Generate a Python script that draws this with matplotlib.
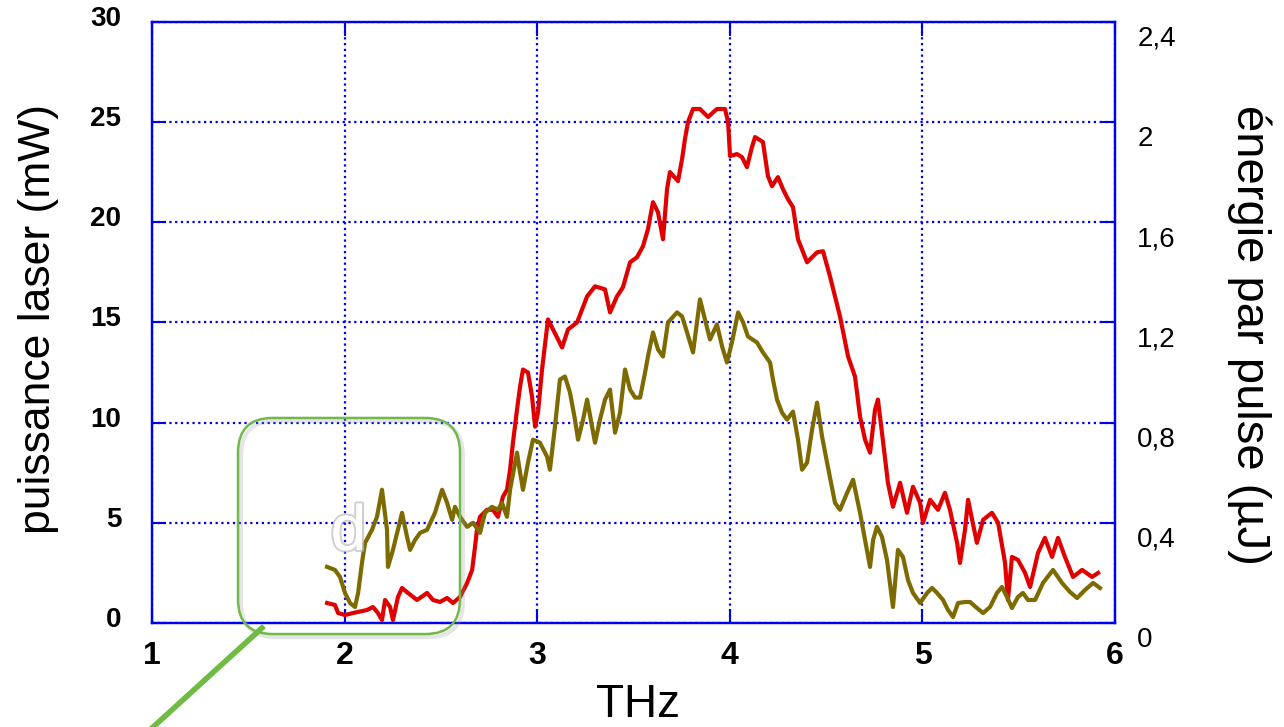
import matplotlib
matplotlib.use("Agg")
import matplotlib.pyplot as plt
import matplotlib.transforms as mtransforms
import matplotlib.patheffects as pe
from matplotlib.patches import FancyBboxPatch
from matplotlib.lines import Line2D

plt.rcParams['font.family'] = ['Liberation Sans', 'DejaVu Sans']

# laser power (mW), left axis
thz_power = [1.909, 1.950, 1.966, 2.002, 2.044, 2.116, 2.147, 2.173, 2.194, 2.210,
             2.236, 2.251, 2.277, 2.298, 2.329, 2.376, 2.428, 2.459, 2.495, 2.532,
             2.563, 2.599, 2.636, 2.662, 2.677, 2.687, 2.703, 2.739, 2.770, 2.796,
             2.822, 2.843, 2.859, 2.874, 2.895, 2.911, 2.926, 2.952, 2.973, 2.989,
             3.004, 3.025, 3.056, 3.082, 3.129, 3.160, 3.207, 3.259, 3.300, 3.352,
             3.378, 3.414, 3.445, 3.482, 3.518, 3.549, 3.575, 3.601, 3.627, 3.653,
             3.674, 3.689, 3.731, 3.752, 3.767, 3.783, 3.809, 3.845, 3.887, 3.933,
             3.975, 3.991, 4.001, 4.037, 4.063, 4.089, 4.115, 4.131, 4.172, 4.198,
             4.219, 4.250, 4.276, 4.302, 4.328, 4.354, 4.401, 4.453, 4.484, 4.520,
             4.572, 4.614, 4.650, 4.676, 4.702, 4.728, 4.754, 4.769, 4.790, 4.821,
             4.847, 4.884, 4.920, 4.951, 4.988, 5.003, 5.040, 5.081, 5.117, 5.143,
             5.180, 5.195, 5.221, 5.237, 5.258, 5.283, 5.315, 5.361, 5.393, 5.429,
             5.444, 5.465, 5.496, 5.533, 5.559, 5.600, 5.636, 5.673, 5.704, 5.740,
             5.782, 5.829, 5.881, 5.912]
power_mw = [1.0, 0.9, 0.5, 0.4, 0.5, 0.65, 0.8, 0.5, 0.15, 1.15,
            0.8, 0.15, 1.3, 1.75, 1.5, 1.15, 1.5, 1.15, 1.05, 1.25,
            1.0, 1.3, 2.0, 2.65, 3.8, 4.65, 5.3, 5.65, 5.65, 5.3,
            6.3, 6.65, 7.65, 9.0, 10.65, 11.8, 12.65, 12.5, 11.3, 9.8,
            10.5, 12.65, 15.15, 14.65, 13.75, 14.65, 15.0, 16.3, 16.8, 16.65,
            15.5, 16.3, 16.75, 18.0, 18.25, 18.8, 19.65, 21.0, 20.5, 19.15,
            21.65, 22.5, 22.05, 23.15, 24.15, 25.0, 25.65, 25.65, 25.25, 25.65,
            25.65, 25.0, 23.3, 23.4, 23.25, 22.75, 23.75, 24.25, 24.0, 22.3,
            21.8, 22.25, 21.65, 21.15, 20.75, 19.15, 18.0, 18.5, 18.55, 17.3,
            15.3, 13.3, 12.3, 10.3, 9.15, 8.5, 10.65, 11.15, 9.5, 7.0,
            5.8, 7.0, 5.5, 6.8, 6.0, 5.0, 6.15, 5.65, 6.5, 5.65,
            4.0, 3.0, 4.65, 6.15, 5.15, 4.0, 5.15, 5.5, 5.0, 3.0,
            1.15, 3.3, 3.15, 2.5, 1.8, 3.5, 4.25, 3.3, 4.25, 3.3,
            2.3, 2.65, 2.3, 2.5]

# energy per pulse (uJ), right axis
thz_energy = [1.909, 1.950, 1.976, 2.002, 2.028, 2.054, 2.070, 2.090, 2.106, 2.142,
              2.168, 2.194, 2.220, 2.225, 2.251, 2.298, 2.324, 2.340, 2.366, 2.392,
              2.428, 2.469, 2.506, 2.532, 2.558, 2.573, 2.599, 2.636, 2.667, 2.703,
              2.729, 2.765, 2.796, 2.817, 2.843, 2.859, 2.895, 2.911, 2.926, 2.952,
              2.978, 3.014, 3.051, 3.066, 3.092, 3.118, 3.144, 3.170, 3.196, 3.212,
              3.238, 3.259, 3.285, 3.300, 3.326, 3.352, 3.378, 3.404, 3.430, 3.456,
              3.482, 3.508, 3.534, 3.560, 3.575, 3.601, 3.627, 3.653, 3.679, 3.726,
              3.752, 3.778, 3.809, 3.845, 3.871, 3.897, 3.933, 3.960, 3.985, 4.011,
              4.043, 4.069, 4.094, 4.141, 4.172, 4.209, 4.224, 4.245, 4.271, 4.297,
              4.328, 4.354, 4.375, 4.401, 4.427, 4.453, 4.479, 4.505, 4.546, 4.572,
              4.609, 4.640, 4.676, 4.702, 4.728, 4.744, 4.764, 4.790, 4.816, 4.847,
              4.858, 4.873, 4.899, 4.925, 4.951, 4.988, 5.024, 5.050, 5.076, 5.107,
              5.133, 5.159, 5.185, 5.221, 5.247, 5.283, 5.315, 5.351, 5.387, 5.413,
              5.439, 5.465, 5.496, 5.522, 5.548, 5.585, 5.626, 5.678, 5.725, 5.766,
              5.803, 5.844, 5.886, 5.922]
energy_uj = [0.224, 0.212, 0.184, 0.12, 0.08, 0.064, 0.12, 0.24, 0.32, 0.372,
             0.424, 0.532, 0.372, 0.224, 0.292, 0.44, 0.344, 0.292, 0.332, 0.36,
             0.372, 0.44, 0.532, 0.48, 0.412, 0.464, 0.424, 0.384, 0.40, 0.36,
             0.44, 0.464, 0.452, 0.48, 0.424, 0.532, 0.68, 0.60, 0.532, 0.64,
             0.732, 0.72, 0.664, 0.612, 0.784, 0.972, 0.984, 0.92, 0.812, 0.732,
             0.812, 0.892, 0.784, 0.72, 0.812, 0.892, 0.932, 0.76, 0.84, 1.012,
             0.932, 0.90, 0.90, 1.00, 1.064, 1.16, 1.092, 1.064, 1.20, 1.24,
             1.224, 1.16, 1.08, 1.292, 1.212, 1.132, 1.192, 1.104, 1.04, 1.12,
             1.24, 1.20, 1.144, 1.12, 1.08, 1.04, 0.972, 0.892, 0.84, 0.812,
             0.844, 0.732, 0.612, 0.64, 0.772, 0.88, 0.744, 0.64, 0.48, 0.452,
             0.52, 0.572, 0.44, 0.332, 0.224, 0.332, 0.384, 0.344, 0.252, 0.064,
             0.16, 0.292, 0.264, 0.172, 0.12, 0.08, 0.12, 0.14, 0.12, 0.092,
             0.052, 0.024, 0.08, 0.084, 0.084, 0.06, 0.04, 0.064, 0.12, 0.144,
             0.104, 0.06, 0.104, 0.12, 0.092, 0.092, 0.16, 0.212, 0.16, 0.124,
             0.10, 0.132, 0.16, 0.14]

x_ticks = [1, 2, 3, 4, 5, 6]
left_ticks = [0, 5, 10, 15, 20, 25, 30]
right_ticks = [0, 0.4, 0.8, 1.2, 1.6, 2.0, 2.4]
right_labels = ["0", "0,4", "0,8", "1,2", "1,6", "2", "2,4"]

blue = "#0000f0"

fig = plt.figure(figsize=(12.84, 7.27), dpi=100)
ax = fig.add_axes([0.1184, 0.143, 0.75, 0.827])
ax2 = ax.twinx()

ax.plot(thz_power, power_mw, color="#e00000", lw=3.0, zorder=3)
ax2.plot(thz_energy, energy_uj, color="#7d6a00", lw=3.0, zorder=3)

ax.set_xlim(1, 6)
ax.set_ylim(0, 30)
ax2.set_ylim(0, 2.4)
ax.set_xticks(x_ticks)
ax.set_yticks(left_ticks)
ax2.set_yticks(right_ticks)
ax2.set_yticklabels(right_labels)

ax.grid(True, color=blue, linestyle=(0, (1, 1.6)), linewidth=1.6)
for a in (ax, ax2):
    for s in a.spines.values():
        s.set_color(blue)
        s.set_linewidth(1.6)
ax.tick_params(axis="both", direction="in", length=10, width=1.5, color=blue,
               top=True, right=False)
ax.tick_params(axis="x", labelsize=23, pad=13)
ax.tick_params(axis="y", labelsize=20, pad=22)
ax2.tick_params(axis="y", direction="in", length=10, width=1.5, color=blue,
                labelsize=20, pad=16)
for lab in ax.get_xticklabels() + ax.get_yticklabels():
    lab.set_fontweight("bold")

off_left = mtransforms.ScaledTranslation(0, 0.06, fig.dpi_scale_trans)
for lab in ax.get_yticklabels():
    lab.set_transform(lab.get_transform() + off_left)
off_right = mtransforms.ScaledTranslation(0, -0.14, fig.dpi_scale_trans)
for lab in ax2.get_yticklabels():
    lab.set_transform(lab.get_transform() + off_right)

ax.set_xlabel("THz", fontsize=33)
ax.xaxis.set_label_coords(0.505, -0.10)
ax.set_ylabel("puissance laser (mW)", fontsize=32)
ax.yaxis.set_label_coords(-0.097, 0.505)
ax2.set_ylabel("énergie par pulse (µJ)", fontsize=34, rotation=270)
ax2.yaxis.set_label_coords(1.162, 0.48)

# green callout box
asp = 963 / 601
shadow = FancyBboxPatch((0.0893 + 0.003, -0.0183 - 0.005), 0.2305, 0.3594,
                        boxstyle="round,pad=0,rounding_size=0.036",
                        mutation_aspect=asp, transform=ax.transAxes,
                        fill=False, ec="#999999", lw=3, alpha=0.25,
                        clip_on=False, zorder=5)
ax2.add_patch(shadow)
box = FancyBboxPatch((0.0893, -0.0183), 0.2305, 0.3594,
                     boxstyle="round,pad=0,rounding_size=0.036",
                     mutation_aspect=asp, transform=ax.transAxes,
                     fill=False, ec="#72b84c", lw=1.8, clip_on=False, zorder=6)
ax2.add_patch(box)
fig.add_artist(Line2D([0.204, 0.1168], [0.1362, -0.004], color="#6fbb44", lw=4,
                      transform=fig.transFigure))

ax2.text(0.204, 0.15, "d", transform=ax.transAxes, fontsize=46, color="white",
         ha="center", va="center", zorder=7,
         path_effects=[pe.withStroke(linewidth=3, foreground="#bbbbbb", alpha=0.7),
                       pe.Normal()])

fig.savefig("out.png", dpi=100)
